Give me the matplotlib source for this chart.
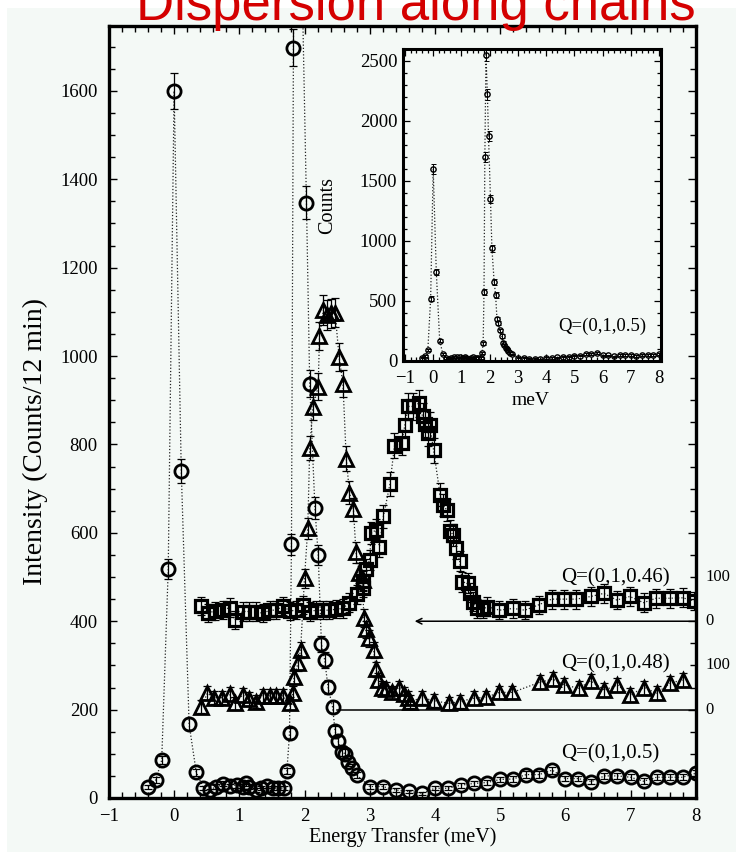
import numpy as np
import matplotlib
matplotlib.use("Agg")
import matplotlib.pyplot as plt
from matplotlib.ticker import MultipleLocator
from matplotlib.patches import Rectangle

# Q=(0,1,0.5): energy transfer (meV) and intensity
e_050 = [-0.40, -0.28, -0.19, -0.09, 0.00, 0.11, 0.23, 0.34,
         0.45, 0.55, 0.64, 0.75, 0.85, 0.96, 1.05, 1.11, 1.15, 1.26,
         1.34, 1.42, 1.51, 1.60, 1.68, 1.73, 1.77, 1.80, 1.83, 1.87,
         1.92, 1.96, 2.03, 2.08, 2.16, 2.21, 2.26, 2.31, 2.36, 2.43,
         2.47, 2.51, 2.58, 2.62, 2.66, 2.73, 2.80,
         3.0, 3.2, 3.4, 3.6, 3.8, 4.0, 4.2, 4.4, 4.6, 4.8, 5.0, 5.2,
         5.4, 5.6, 5.8, 6.0, 6.2, 6.4, 6.6, 6.8, 7.0, 7.2, 7.4, 7.6,
         7.8, 8.0]
i_050 = [25, 41, 86, 518, 1600, 740, 167, 58,
         23, 17, 26, 32, 27, 29, 26, 33, 26, 18,
         22, 28, 22, 23, 22, 61, 146, 574, 1698, 2550,
         2220, 1870, 1347, 937, 656, 550, 348, 312, 252, 206,
         151, 130, 105, 100, 82, 68, 52,
         26, 26, 18, 15, 11, 22, 22, 29, 33, 35, 42, 43,
         53, 53, 63, 44, 44, 37, 50, 50, 47, 38, 47, 47,
         47, 56]

# Q=(0,1,0.48), drawn shifted up by 200
e_048 = [0.42, 0.51, 0.61, 0.73, 0.85, 0.93, 1.05, 1.15, 1.25, 1.36,
         1.47, 1.57, 1.67, 1.77, 1.82, 1.84, 1.90, 1.94, 2.00, 2.05,
         2.08, 2.13, 2.21, 2.23, 2.29, 2.34, 2.40, 2.47, 2.53, 2.59,
         2.64, 2.69, 2.75, 2.79, 2.84, 2.89, 2.91, 2.94, 2.99, 3.06,
         3.10, 3.13, 3.19, 3.25, 3.34, 3.45, 3.53, 3.58, 3.62, 3.80,
         3.99, 4.21, 4.38, 4.60, 4.79, 4.99, 5.19, 5.61, 5.81, 5.98,
         6.21, 6.39, 6.60, 6.80, 6.99, 7.21, 7.40, 7.61, 7.80]
i_048 = [7, 37, 27, 27, 35, 14, 33, 24, 18, 31,
         31, 31, 31, 14, 37, 74, 105, 135, 297, 410,
         592, 684, 731, 845, 904, 893, 897, 898, 798, 737,
         568, 491, 453, 356, 310, 293, 207, 182, 161, 135,
         91, 67, 50, 46, 39, 50, 35, 27, 18, 27,
         20, 14, 18, 26, 28, 39, 39, 62, 69, 56,
         48, 65, 44, 56, 33, 50, 37, 60, 67]

# Q=(0,1,0.46), drawn shifted up by 400
e_046 = [0.42, 0.52, 0.63, 0.75, 0.85, 0.93, 1.05, 1.15, 1.25, 1.36,
         1.47, 1.57, 1.67, 1.77, 1.87, 1.97, 2.08, 2.18, 2.28, 2.38,
         2.48, 2.59, 2.69, 2.80, 2.89, 2.90, 2.94, 3.00, 3.02, 3.09,
         3.15, 3.21, 3.31, 3.38, 3.49, 3.54, 3.59, 3.67, 3.75, 3.81,
         3.85, 3.90, 3.92, 3.98, 4.08, 4.12, 4.18, 4.23, 4.28, 4.33,
         4.38, 4.42, 4.50, 4.54, 4.58, 4.65, 4.74, 4.80, 4.99, 5.20,
         5.38, 5.59, 5.79, 5.98, 6.17, 6.39, 6.59, 6.79, 6.99, 7.20,
         7.39, 7.60, 7.80, 7.98]
i_046 = [35, 19, 23, 25, 31, 3, 22, 22, 22, 18,
         25, 25, 35, 23, 25, 37, 22, 25, 25, 25,
         27, 29, 42, 61, 76, 91, 118, 139, 199, 206,
         169, 237, 310, 397, 404, 444, 486, 486, 493, 464,
         446, 425, 444, 387, 286, 263, 252, 205, 195, 165,
         136, 89, 86, 65, 44, 29, 27, 33, 25, 29,
         25, 37, 50, 50, 50, 56, 63, 48, 56, 42,
         52, 52, 53, 46]

offsets = [0, 200, 400]
labels = ["Q=(0,1,0.5)", "Q=(0,1,0.48)", "Q=(0,1,0.46)"]

bg = "#f4f9f6"
serif = "Liberation Serif"
plt.rcParams["font.family"] = serif

fig = plt.figure(figsize=(7.36, 8.52), dpi=100)
fig.patches.append(Rectangle((7 / 736, 0), 1, 1 - 8 / 852, transform=fig.transFigure,
                             facecolor=bg, edgecolor="none", zorder=-10))

fig.text(0.5645, 1 - 20 / 852, "Dispersion along chains", color="#d40000",
         fontsize=38, family="Liberation Sans", ha="center", va="baseline")

ax = fig.add_axes([108.9 / 736, 1 - 798 / 852, (695.7 - 108.9) / 736, (798 - 25.5) / 852])
ax.set_facecolor(bg)
ax.set_xlim(-1, 8)
ax.set_ylim(0, 1748)

line_kw = dict(color="#222222", lw=0.9, ls=(0, (1, 1.6)))
err_kw = dict(ecolor="black", elinewidth=0.9, capsize=3, capthick=0.9)

series = [(e_050, i_050, "o", 9.5, 2.0), (e_048, i_048, "^", 9.5, 2.0),
          (e_046, i_046, "s", 8, 2.3)]
for (e, c, m, ms, mw), off in zip(series, offsets):
    y = np.array(c, dtype=float) + off
    ax.errorbar(e, y, yerr=np.sqrt(y), fmt="none", zorder=2, **err_kw)
    ax.plot(e, y, **line_kw, zorder=1)
    ax.plot(e, y, ls="none", marker=m, ms=ms, mfc="none", mec="black", mew=mw, zorder=3)

# zero lines of the shifted scans
ax.annotate("", xy=(3.69, 400), xytext=(8, 400),
            arrowprops=dict(arrowstyle="->", lw=1.1, color="black", shrinkA=0, shrinkB=0))
ax.plot([2.5, 8], [200, 200], color="black", lw=1.1)

for lab, ly in zip(labels, [100, 303, 498]):
    ax.text(5.93, ly, lab, fontsize=15, ha="left", va="center")

for off in offsets[1:]:
    ax.text(1.017, off, "0", transform=ax.get_yaxis_transform(), fontsize=12, va="center")
    ax.text(1.017, off + 100, "100", transform=ax.get_yaxis_transform(), fontsize=12, va="center")

ax.xaxis.set_major_locator(MultipleLocator(1))
ax.xaxis.set_minor_locator(MultipleLocator(0.2))
ax.yaxis.set_minor_locator(MultipleLocator(50))
ax.set_yticks(np.arange(0, 1601, 200))
ax.tick_params(which="both", direction="in", top=True, right=True, width=1.0)
ax.tick_params(which="major", length=6, labelsize=13.5)
ax.tick_params(which="minor", length=4)
ax.tick_params(axis="y", which="major", pad=8)
ax.tick_params(axis="x", which="major", pad=7)
for s in ax.spines.values():
    s.set_linewidth(2.4)

ax.set_xlabel("Energy Transfer (meV)", fontsize=14.5, labelpad=2)
ax.set_ylabel("Intensity (Counts/12 min)", fontsize=20)
ax.yaxis.set_label_coords(-0.103, 0.462)

# inset: full Q=(0,1,0.5) scan
ins = fig.add_axes([402.7 / 736, 1 - 360.7 / 852, (661 - 402.7) / 736, (360.7 - 49.3) / 852])
ins.set_facecolor(bg)
ins.set_xlim(-1.08, 8.07)
ins.set_ylim(0, 2595)
y = np.array(i_050, dtype=float)
ins.errorbar(e_050, y, yerr=np.sqrt(y), fmt="none", ecolor="black", elinewidth=0.7,
             capsize=1.8, capthick=0.7, zorder=2)
ins.plot(e_050, y, **line_kw, zorder=1)
ins.plot(e_050, y, ls="none", marker="o", ms=3.8, mfc="none", mec="black", mew=1.0, zorder=3)
ins.text(4.42, 283, labels[0], fontsize=13.5, ha="left", va="center")
ins.xaxis.set_major_locator(MultipleLocator(1))
ins.xaxis.set_minor_locator(MultipleLocator(0.2))
ins.yaxis.set_major_locator(MultipleLocator(500))
ins.yaxis.set_minor_locator(MultipleLocator(100))
ins.tick_params(which="both", direction="in", top=True, right=True, width=0.9)
ins.tick_params(which="major", length=5, labelsize=13.5, pad=4)
ins.tick_params(axis="x", which="major", pad=7)
ins.tick_params(which="minor", length=3)
for s in ins.spines.values():
    s.set_linewidth(2.2)
ins.set_xlabel("meV", fontsize=14)
ins.xaxis.set_label_coords(0.497, -0.1)
ins.set_ylabel("Counts", fontsize=14.5)
ins.yaxis.set_label_coords(-0.254, 0.5)

fig.savefig("out.png", dpi=100, facecolor="white")
